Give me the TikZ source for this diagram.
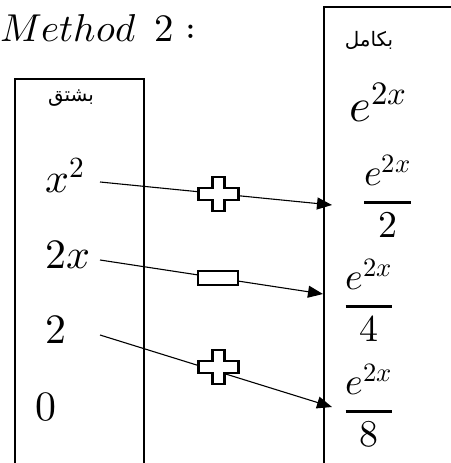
\documentclass[tikz,border=0pt]{standalone}
\usepackage{amsmath}
\usepackage{fontspec}
\usepackage{unicode-math}
\usepackage{tikz}
\usetikzlibrary{arrows.meta,positioning}
\newfontfamily\arabicfont[Script=Arabic]{DejaVu Sans}
\TeXXeTstate=1
\tikzset{
  plussign/.pic={
    \draw[signline] (-20,-6) -- (-6,-6) -- (-6,-17) -- (6,-17) -- (6,-6) -- (20,-6)
      -- (20,6) -- (6,6) -- (6,17) -- (-6,17) -- (-6,6) -- (-20,6) -- cycle;
  },
  minussign/.pic={
    \draw[signline] (-20,-7) rectangle (20,7);
  },
}

\begin{document}
\begin{tikzpicture}[
  x=1bp, y=-1bp,
  every node/.style={inner sep=0pt},
  col/.style={draw, line width=1.8bp, minimum width=#1, minimum height=480bp,
    anchor=north west},
  term/.style={font=\fontsize{42}{50}\selectfont, anchor=base west},
  frc/.style={font=\fontsize{38}{44}\selectfont, anchor=base},
  word/.style={font=\arabicfont\fontsize{20}{24}\selectfont},
  arr/.style={-{Triangle[length=15bp,width=12bp]}, line width=1.1bp},
  signline/.style={draw=black, fill=white, line width=2.4bp, line join=miter},
]
\useasboundingbox (0,0) rectangle (451,463);

\node[col=129bp] (derivbox) at (14,78) {};
\node[col=200bp] (integbox) at (323,6) {};
\node[font=\fontsize{39}{46}\selectfont, anchor=base west] (title) at (0,42) {$Method\ \,2:$};

\node[word] (deriv) at (71,98) {\beginR بشتق\endR};
\node[word] (integ) at (369,40) {\beginR بكامل\endR};

\node[term] (d0) at (45,193) {$x^2$};
\node[term] (d1) at (45,268) {$2x$};
\node[term] (d2) at (45,343) {$2$};
\node[term] (d3) at (35,420) {$0$};

\node[term, font=\fontsize{47}{54}\selectfont] (i0) at (349,122) {$e^{2x}$};
\node[frc] (i1) at (387.5,211.5) {$\genfrac{}{}{3bp}{0}{e^{2x}}{2}$};
\node[frc] (i2) at (369,315.5) {$\genfrac{}{}{3bp}{0}{e^{2x}}{4}$};
\node[frc] (i3) at (369,420.5) {$\genfrac{}{}{3bp}{0}{e^{2x}}{8}$};

\coordinate (s1) at (100,182);
\coordinate (t1) at (332,205);
\coordinate (s2) at (100,260);
\coordinate (t2) at (323,294);
\coordinate (s3) at (100,335);
\coordinate (t3) at (332,407);

\draw[arr] (s1) -- coordinate[pos=.51] (m1) (t1);
\draw[arr] (s2) -- coordinate[pos=.53] (m2) (t2);
\draw[arr] (s3) -- coordinate[pos=.51] (m3) (t3);

\pic at (m1) {plussign};
\pic at (m2) {minussign};
\pic at ([yshift=5bp]m3) {plussign};
\end{tikzpicture}
\end{document}
